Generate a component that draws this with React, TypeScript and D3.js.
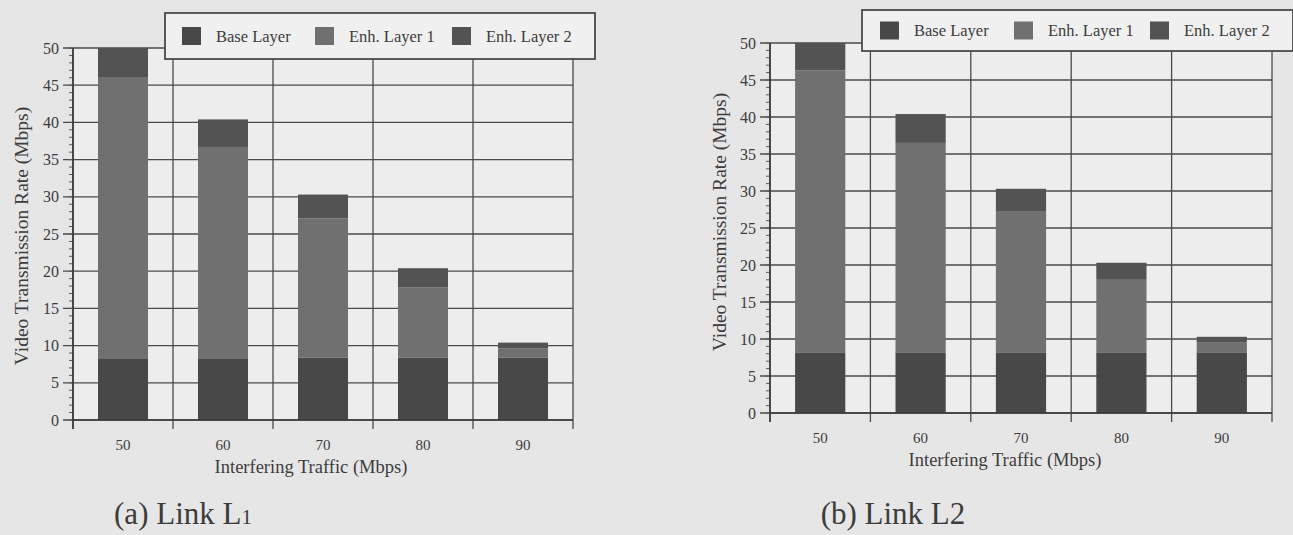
import React, { useEffect, useRef } from 'react';
import * as d3 from 'd3';

// interfering traffic levels (x categories)
const trafficLevels = ['50', '60', '70', '80', '90'];
const layerNames = ['Base Layer', 'Enh. Layer 1', 'Enh. Layer 2'];
const yTickValues = [0, 5, 10, 15, 20, 25, 30, 35, 40, 45, 50];

// (a) Link L1, Mbps per layer
const l1Base = [8.2, 8.3, 8.4, 8.4, 8.4];
const l1Enh1 = [37.9, 28.4, 18.7, 9.4, 1.2];
const l1Enh2 = [3.9, 3.7, 3.2, 2.6, 0.8];

// (b) Link L2, Mbps per layer
const l2Base = [8.2, 8.2, 8.2, 8.2, 8.2];
const l2Enh1 = [38.1, 28.3, 19.0, 9.8, 1.3];
const l2Enh2 = [3.7, 3.9, 3.1, 2.3, 0.8];

const layerColors = ['#484848', '#707070', '#535353'];
const ink = '#3c3c3c';
const font = '"Liberation Serif", "DejaVu Serif", serif';

const buildRows = (base, enh1, enh2) =>
  trafficLevels.map((t, i) => ({ traffic: t, base: base[i], enh1: enh1[i], enh2: enh2[i] }));

const panels = [
  {
    rows: buildRows(l1Base, l1Enh1, l1Enh2),
    plot: { left: 73, right: 573, top: 48, bottom: 420 },
    legend: { x: 165, y: 13, w: 430, h: 46, items: [17, 150, 287] },
    yTitle: { x: 21, y: 236 },
    xTitle: { x: 311, y: 473 },
    caption: { x: 183, y: 524, main: '(a) Link L', sub: '1' },
  },
  {
    rows: buildRows(l2Base, l2Enh1, l2Enh2),
    plot: { left: 770, right: 1272, top: 43, bottom: 413 },
    legend: { x: 862, y: 10, w: 431, h: 41, items: [18, 152, 288] },
    yTitle: { x: 719, y: 222 },
    xTitle: { x: 1005, y: 466 },
    caption: { x: 893, y: 524, main: '(b) Link L2', sub: '' },
  },
];

const App = () => {
  const svgRef = useRef(null);

  useEffect(() => {
    const svg = d3.select(svgRef.current);
    svg.selectAll('*').remove();

    // scanned page background
    svg.append('rect').attr('width', 1293).attr('height', 535).attr('fill', '#e6e6e6');

    panels.forEach((p) => {
      const g = svg.append('g');
      const x = d3.scaleBand().domain(trafficLevels).range([p.plot.left, p.plot.right]).padding(0);
      const y = d3.scaleLinear().domain([0, 50]).range([p.plot.bottom, p.plot.top]);

      g.append('rect')
        .attr('x', p.plot.left)
        .attr('y', p.plot.top)
        .attr('width', p.plot.right - p.plot.left)
        .attr('height', p.plot.bottom - p.plot.top)
        .attr('fill', '#ededed');

      // horizontal grid every 5
      g.selectAll('.hgrid')
        .data(yTickValues)
        .enter()
        .append('line')
        .attr('x1', p.plot.left - 10)
        .attr('x2', p.plot.right)
        .attr('y1', (d) => y(d))
        .attr('y2', (d) => y(d))
        .attr('stroke', '#4a4a4a')
        .attr('stroke-width', 1.3);

      // minor ticks every 1 on the y axis
      g.selectAll('.minor')
        .data(d3.range(0, 51))
        .enter()
        .append('line')
        .attr('x1', p.plot.left - 4)
        .attr('x2', p.plot.left)
        .attr('y1', (d) => y(d))
        .attr('y2', (d) => y(d))
        .attr('stroke', '#5a5a5a')
        .attr('stroke-width', 1);

      // vertical grid at band edges, running below the axis as ticks
      const edges = trafficLevels.map((t) => x(t)).concat([p.plot.right]);
      g.selectAll('.vgrid')
        .data(edges)
        .enter()
        .append('line')
        .attr('x1', (d) => d)
        .attr('x2', (d) => d)
        .attr('y1', p.plot.top)
        .attr('y2', p.plot.bottom + 9)
        .attr('stroke', '#4a4a4a')
        .attr('stroke-width', 1.3);

      // stacked bars
      const stack = d3.stack().keys(['base', 'enh1', 'enh2']);
      const series = stack(p.rows);
      const bw = x.bandwidth() * 0.5;
      series.forEach((s, si) => {
        g.selectAll('.bar' + si)
          .data(s)
          .enter()
          .append('rect')
          .attr('x', (d) => x(d.data.traffic) + (x.bandwidth() - bw) / 2)
          .attr('width', bw)
          .attr('y', (d) => y(d[1]))
          .attr('height', (d) => y(d[0]) - y(d[1]))
          .attr('fill', layerColors[si]);
      });

      // axis line
      g.append('line')
        .attr('x1', p.plot.left)
        .attr('x2', p.plot.right)
        .attr('y1', y(0))
        .attr('y2', y(0))
        .attr('stroke', '#3a3a3a')
        .attr('stroke-width', 1.6);
      g.append('line')
        .attr('x1', p.plot.left)
        .attr('x2', p.plot.left)
        .attr('y1', p.plot.top)
        .attr('y2', p.plot.bottom + 9)
        .attr('stroke', '#3a3a3a')
        .attr('stroke-width', 1.6);

      // y tick labels
      g.selectAll('.ylab')
        .data(yTickValues)
        .enter()
        .append('text')
        .attr('x', p.plot.left - 14)
        .attr('y', (d) => y(d))
        .attr('dy', '0.35em')
        .attr('text-anchor', 'end')
        .attr('font-family', font)
        .attr('font-size', 16)
        .attr('fill', ink)
        .text((d) => d);

      // x tick labels
      g.selectAll('.xlab')
        .data(trafficLevels)
        .enter()
        .append('text')
        .attr('x', (d) => x(d) + x.bandwidth() / 2)
        .attr('y', p.plot.bottom + 30)
        .attr('text-anchor', 'middle')
        .attr('font-family', font)
        .attr('font-size', 15)
        .attr('fill', ink)
        .text((d) => d);

      g.append('text')
        .attr('x', p.xTitle.x)
        .attr('y', p.xTitle.y)
        .attr('text-anchor', 'middle')
        .attr('font-family', font)
        .attr('font-size', 18.5)
        .attr('fill', ink)
        .text('Interfering Traffic (Mbps)');

      g.append('text')
        .attr('transform', `translate(${p.yTitle.x},${p.yTitle.y}) rotate(-90)`)
        .attr('text-anchor', 'middle')
        .attr('dy', '0.35em')
        .attr('font-family', font)
        .attr('font-size', 19.5)
        .attr('fill', ink)
        .text('Video Transmission Rate (Mbps)');

      // caption
      const cap = g
        .append('text')
        .attr('x', p.caption.x)
        .attr('y', p.caption.y)
        .attr('text-anchor', 'middle')
        .attr('font-family', font)
        .attr('font-size', 31)
        .attr('fill', ink);
      cap.append('tspan').text(p.caption.main);
      if (p.caption.sub) cap.append('tspan').attr('font-size', 21).text(p.caption.sub);

      // legend
      const lg = g.append('g').attr('transform', `translate(${p.legend.x},${p.legend.y})`);
      lg.append('rect')
        .attr('width', p.legend.w)
        .attr('height', p.legend.h)
        .attr('fill', '#f0f0f0')
        .attr('stroke', '#4a4a4a')
        .attr('stroke-width', 1.8);
      layerNames.forEach((name, i) => {
        const ix = p.legend.items[i];
        lg.append('rect')
          .attr('x', ix)
          .attr('y', p.legend.h / 2 - 9)
          .attr('width', 19)
          .attr('height', 18)
          .attr('fill', layerColors[i]);
        lg.append('text')
          .attr('x', ix + 34)
          .attr('y', p.legend.h / 2)
          .attr('dy', '0.35em')
          .attr('font-family', font)
          .attr('font-size', 16.5)
          .attr('fill', ink)
          .text(name);
      });
    });
  }, []);

  return (
    <svg
      ref={svgRef}
      width={1293}
      height={535}
      style={{ position: 'absolute', left: 0, top: 0 }}
    />
  );
};

export default App;
